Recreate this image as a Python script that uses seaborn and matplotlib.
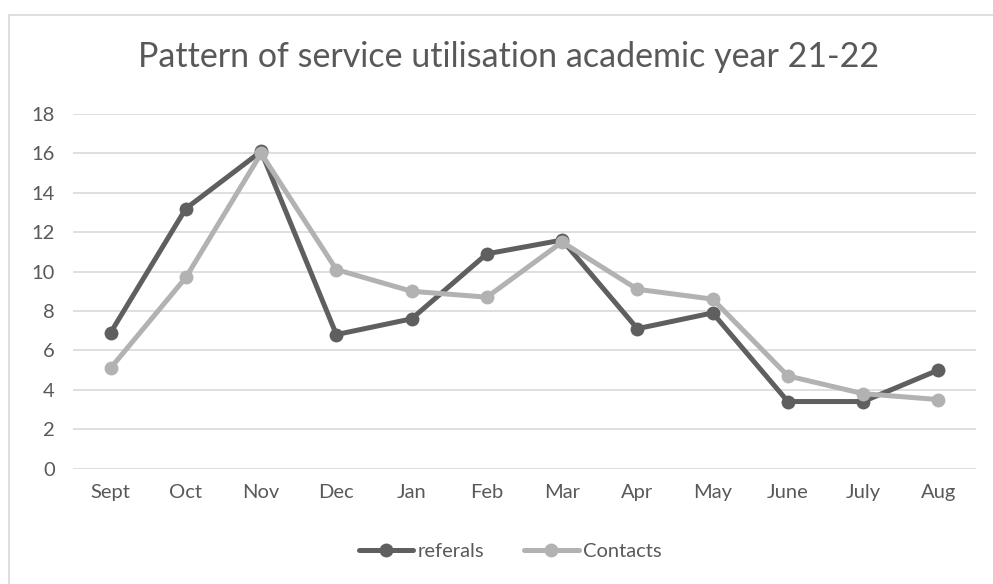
import matplotlib
matplotlib.use("Agg")
import matplotlib.pyplot as plt
from matplotlib.lines import Line2D
import seaborn as sns
import pandas as pd

months = ["Sept", "Oct", "Nov", "Dec", "Jan", "Feb", "Mar", "Apr", "May", "June", "July", "Aug"]
referals = [6.9, 13.2, 16.1, 6.8, 7.6, 10.9, 11.6, 7.1, 7.9, 3.4, 3.4, 5.0]
contacts = [5.1, 9.7, 16.0, 10.1, 9.0, 8.7, 11.5, 9.1, 8.6, 4.7, 3.8, 3.5]
series_names = ["referals", "Contacts"]
y_ticks = [0, 2, 4, 6, 8, 10, 12, 14, 16, 18]

colors = {"referals": "#5f5f5f", "Contacts": "#b2b2b2"}
text_color = "#595959"

df = pd.DataFrame({
    "month": months * 2,
    "value": referals + contacts,
    "series": [series_names[0]] * len(months) + [series_names[1]] * len(months),
})

sns.set_theme(style="white")
plt.rcParams["font.family"] = ["Lato", "DejaVu Sans"]

fig = plt.figure(figsize=(9.93, 5.84), dpi=100)
ax = fig.add_axes([73 / 993, 1 - 468.5 / 584, (976 - 73) / 993, (468.5 - 114) / 584])

# outer chart-area frame (left and top edges visible)
fig.add_artist(Line2D([9 / 993, 9 / 993], [0, 1 - 15 / 584], transform=fig.transFigure,
                      color="#d9d9d9", lw=1.2))
fig.add_artist(Line2D([9 / 993, 1], [1 - 15 / 584, 1 - 15 / 584], transform=fig.transFigure,
                      color="#d9d9d9", lw=1.2))

sns.lineplot(data=df, x="month", y="value", hue="series", palette=colors,
             marker="o", markersize=10, markeredgewidth=0, linewidth=3.6,
             sort=False, ax=ax, legend=False, zorder=3)

ax.set_xlim(-0.5, len(months) - 0.5)
ax.set_ylim(0, 18)
ax.set_yticks(y_ticks)
ax.set_yticklabels([str(t) for t in y_ticks])
ax.yaxis.grid(True, color="#d9d9d9", linewidth=1.2, zorder=0)
ax.xaxis.grid(False)
for s in ax.spines.values():
    s.set_visible(False)
ax.tick_params(axis="both", length=0, labelsize=14.5, colors=text_color)
ax.tick_params(axis="y", pad=13)
ax.tick_params(axis="x", pad=11)
ax.set_xlabel("")
ax.set_ylabel("")

fig.text(509 / 993, 1 - 57 / 584, "Pattern of service utilisation academic year 21-22",
         ha="center", va="center", fontsize=24.5, color=text_color)

handles = [Line2D([], [], color=colors[n], lw=3.6, marker="o", markersize=10,
                  markeredgewidth=0) for n in series_names]
fig.legend(handles, series_names, loc="center", bbox_to_anchor=(510 / 993, 1 - 551 / 584),
           ncol=2, frameon=False, fontsize=14.5, labelcolor=text_color,
           handlelength=2.7, handletextpad=0.2, columnspacing=2.0)

fig.savefig("out.png", dpi=100)
